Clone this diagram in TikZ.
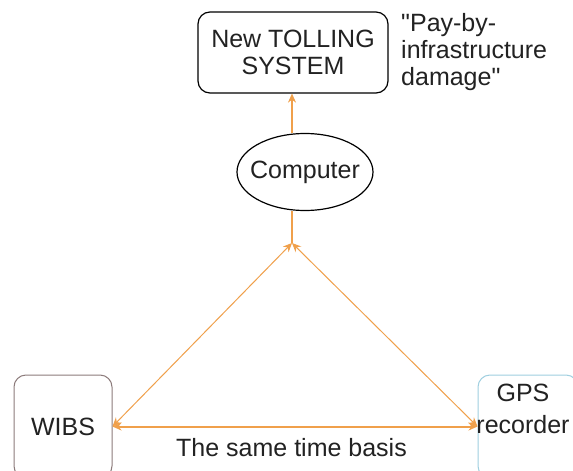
\documentclass[tikz,border=0pt]{standalone}
\usepackage{fontspec}
\newfontfamily\lib{Liberation Sans}
\usetikzlibrary{arrows.meta,shapes.geometric}
\definecolor{arr}{HTML}{F0A04B}
\definecolor{wibsc}{HTML}{8C7B7B}
\definecolor{gpsc}{HTML}{9FCFE0}
\definecolor{ink}{HTML}{222222}
\begin{document}
\begin{tikzpicture}[x=1pt,y=-1pt,
  txt/.style={font=\lib\fontsize{25}{27}\selectfont, text=ink, align=center, inner sep=0pt},
  roundbox/.style={txt, rounded corners=12pt, line width=1.2pt},
  conn/.style={draw=arr, line width=1.3pt, {Stealth[length=9pt,width=8pt]}-{Stealth[length=9pt,width=8pt]}},
  oneway/.style={draw=arr, line width=1.3pt, -{Stealth[length=9pt,width=8pt]}},
  plain/.style={draw=arr, line width=1.3pt},
]
\clip (0,0) rectangle (573,471);
\fill[white] (0,0) rectangle (573,471);
\node[roundbox, draw=black, minimum width=190pt, minimum height=81pt] (toll) at (293,52.5) {New TOLLING\\SYSTEM};
\node[txt, align=left, anchor=north west] (pay) at (401,13) {"Pay-by-\\infrastructure\\damage"};
\node[txt, draw=black, ellipse, line width=1.2pt, minimum width=136pt, minimum height=77pt, inner xsep=-20pt, inner ysep=0pt] (comp) at (305,172) {Computer};
\coordinate (apex) at (292,243);
\node[roundbox, draw=wibsc, line width=1pt, minimum width=98pt, minimum height=103pt] (wibs) at (63,426.5) {WIBS};
\node[roundbox, draw=gpsc, line width=1pt, minimum width=100pt, minimum height=103pt] (gps) at (528,426.5) {};
\node[txt] (gpstext) at (gps.center) [xshift=-5pt, yshift=17.5pt] {GPS\\[5pt]recorder};
\draw[oneway] (apex |- comp.north) -- (apex |- toll.south);
\draw[plain] (apex) -- (apex |- comp.south);
\draw[conn, line width=1pt] (wibs.east) -- (apex);
\draw[conn, line width=1pt] (apex) -- (gps.west);
\draw[conn, line width=2pt] (wibs) -- (gps);
\node[txt] (lbl) at (291.5,448) {The same time basis};
\end{tikzpicture}
\end{document}
